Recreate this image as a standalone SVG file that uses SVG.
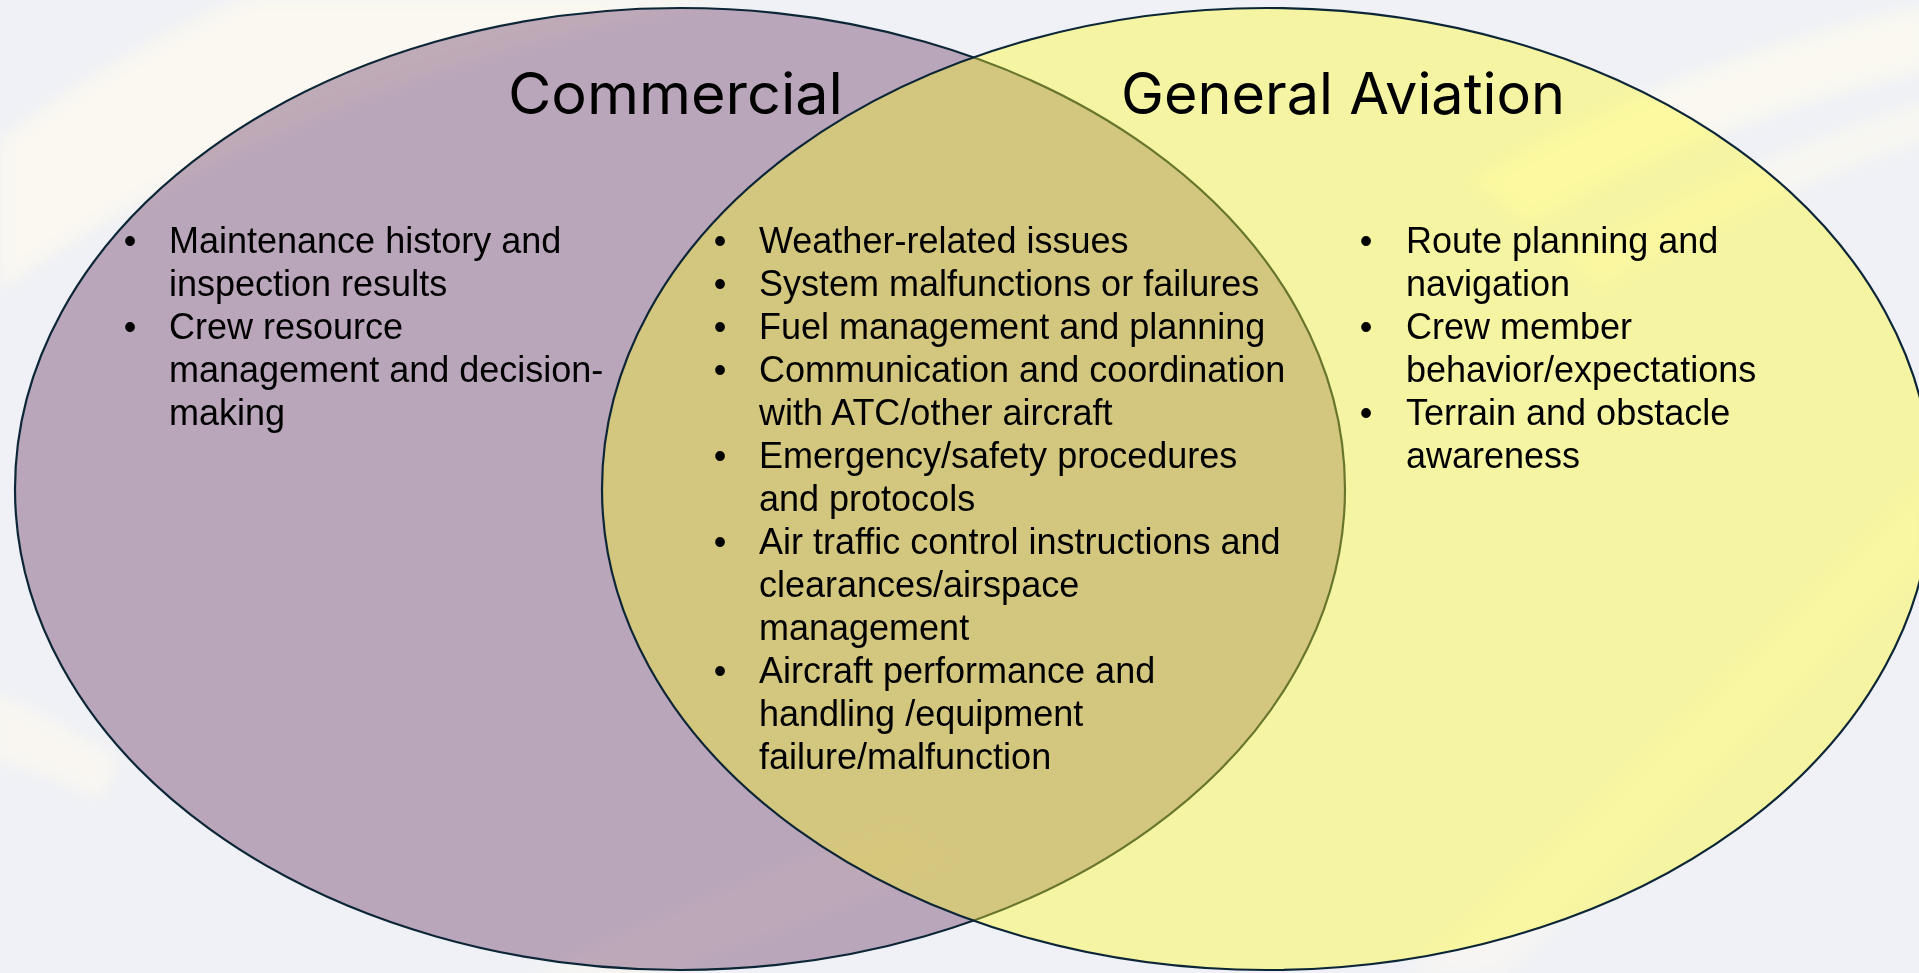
<svg xmlns="http://www.w3.org/2000/svg" width="1919" height="973" viewBox="0 0 1919 973">
  <defs>
    <style>
      .body { font-family: "Liberation Sans", Arial, sans-serif; font-size: 36px; fill: #000000; }
      .dot { font-family: "Liberation Sans", Arial, sans-serif; font-size: 36px; fill: #000000; text-anchor: middle; }
      .title { font-family: Inter, "Liberation Sans", sans-serif; font-size: 57px; fill: #000000; }
      .ring { stroke: #0c2637; stroke-width: 2.2; }
      .sweep { fill: #fbf8f0; }
    </style>
    <filter id="soft" x="-10%" y="-10%" width="120%" height="120%">
      <feGaussianBlur stdDeviation="8"/>
    </filter>
  </defs>

  <!-- backdrop with pale sweeping bands -->
  <rect width="1919" height="973" fill="#eff1f6"/>
  <g id="backdrop" filter="url(#soft)">
    <path class="sweep" d="M0,140 Q110,55 250,-5 L760,-5 Q330,60 0,290 Z" opacity="0.95"/>
    <path class="sweep" d="M1470,180 Q1690,55 1930,5 L1930,70 Q1720,115 1530,225 Z" opacity="0.9"/>
    <path class="sweep" d="M1560,260 Q1760,150 1930,100 L1930,140 Q1770,190 1600,290 Z" opacity="0.7"/>
    <path class="sweep" d="M1400,980 Q1650,760 1930,470 L1930,560 Q1700,800 1500,980 Z" opacity="0.55"/>
    <path class="sweep" d="M-10,690 Q60,720 120,760 L100,800 Q40,770 -10,760 Z" opacity="0.8"/>
    <path class="sweep" d="M520,980 Q700,900 900,820 L960,860 Q780,930 640,980 Z" opacity="0.6"/>
  </g>

  <!-- Commercial set -->
  <g id="commercial">
    <ellipse class="ring" cx="680" cy="489" rx="665" ry="481" fill="#835b7e" fill-opacity="0.5"/>
  </g>

  <!-- General Aviation set, drawn over the first so the overlap blends -->
  <g id="general-aviation">
    <ellipse class="ring" cx="1267" cy="489" rx="665" ry="481" fill="#fffa1e" fill-opacity="0.38"/>
  </g>

  <!-- Commercial labels -->
  <g id="commercial-labels">
    <text class="title" x="508" y="114" textLength="335" lengthAdjust="spacingAndGlyphs">Commercial</text>
    <text class="dot" x="130" y="253">•</text>
    <text class="body" x="169" y="253">Maintenance history and</text>
    <text class="body" x="169" y="296">inspection results</text>
    <text class="dot" x="130" y="339">•</text>
    <text class="body" x="169" y="339">Crew resource</text>
    <text class="body" x="169" y="382">management and decision-</text>
    <text class="body" x="169" y="425">making</text>
  </g>

  <!-- Shared items in the overlap -->
  <g id="shared-labels">
    <text class="dot" x="720" y="253">•</text>
    <text class="body" x="759" y="253">Weather-related issues</text>
    <text class="dot" x="720" y="296">•</text>
    <text class="body" x="759" y="296">System malfunctions or failures</text>
    <text class="dot" x="720" y="339">•</text>
    <text class="body" x="759" y="339">Fuel management and planning</text>
    <text class="dot" x="720" y="382">•</text>
    <text class="body" x="759" y="382">Communication and coordination</text>
    <text class="body" x="759" y="425">with ATC/other aircraft</text>
    <text class="dot" x="720" y="468">•</text>
    <text class="body" x="759" y="468">Emergency/safety procedures</text>
    <text class="body" x="759" y="511">and protocols</text>
    <text class="dot" x="720" y="554">•</text>
    <text class="body" x="759" y="554">Air traffic control instructions and</text>
    <text class="body" x="759" y="597">clearances/airspace</text>
    <text class="body" x="759" y="640">management</text>
    <text class="dot" x="720" y="683">•</text>
    <text class="body" x="759" y="683">Aircraft performance and</text>
    <text class="body" x="759" y="726">handling /equipment</text>
    <text class="body" x="759" y="769">failure/malfunction</text>
  </g>

  <!-- General Aviation labels -->
  <g id="general-aviation-labels">
    <text class="title" x="1121" y="114" textLength="444" lengthAdjust="spacingAndGlyphs">General Aviation</text>
    <text class="dot" x="1366" y="253">•</text>
    <text class="body" x="1406" y="253">Route planning and</text>
    <text class="body" x="1406" y="296">navigation</text>
    <text class="dot" x="1366" y="339">•</text>
    <text class="body" x="1406" y="339">Crew member</text>
    <text class="body" x="1406" y="382">behavior/expectations</text>
    <text class="dot" x="1366" y="425">•</text>
    <text class="body" x="1406" y="425">Terrain and obstacle</text>
    <text class="body" x="1406" y="468">awareness</text>
  </g>
</svg>
